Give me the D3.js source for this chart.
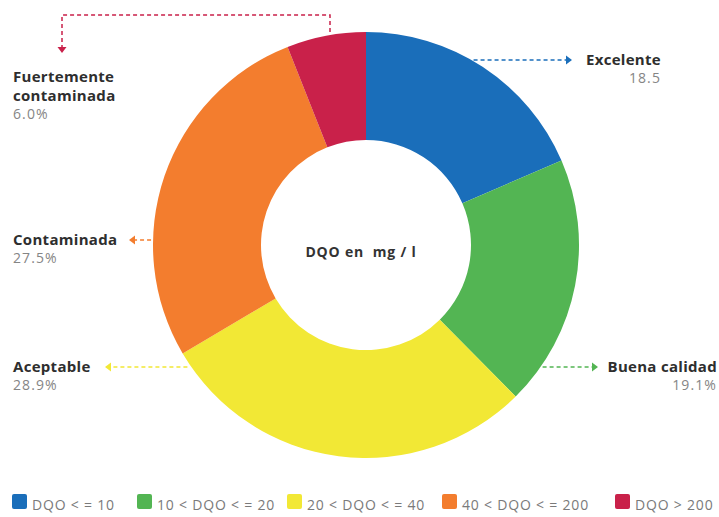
<!DOCTYPE html>
<html>
<head>
<meta charset="utf-8">
<script src="https://cdn.jsdelivr.net/npm/d3@7"></script>
<style>
  html, body { margin: 0; padding: 0; background: #fff; }
  svg { display: block; font-family: "Open Sans", Lato, sans-serif; }
</style>
</head>
<body>
<svg id="chart" width="719" height="517"></svg>
<script>
// Water quality by chemical oxygen demand (DQO), share of sites per class
const categories = ["Excelente", "Buena calidad", "Aceptable", "Contaminada", "Fuertemente contaminada"];
const values = [18.5, 19.1, 28.9, 27.5, 6.0];
const valueLabels = ["18.5", "19.1%", "28.9%", "27.5%", "6.0%"];
const legendLabels = ["DQO < = 10", "10 < DQO < = 20", "20 < DQO < = 40", "40 < DQO < = 200", "DQO > 200"];
const colors = ["#1a6eba", "#53b553", "#f2e835", "#f37d2e", "#c9214a"];
const centerTitle = "DQO en  mg / l";

const svg = d3.select("#chart");
const cx = 366, cy = 245, rOuter = 213, rInner = 105;

const pie = d3.pie().sort(null).value(d => d)(values);
const arc = d3.arc().innerRadius(rInner).outerRadius(rOuter);

const g = svg.append("g").attr("transform", `translate(${cx},${cy})`);
g.selectAll("path.slice")
  .data(pie)
  .join("path")
  .attr("class", "slice")
  .attr("d", arc)
  .attr("fill", (d, i) => colors[i]);

g.append("text")
  .attr("x", -5).attr("y", 12)
  .attr("text-anchor", "middle")
  .attr("font-size", 14).attr("font-weight", 700)
  .attr("letter-spacing", 0.8)
  .attr("fill", "#333")
  .style("white-space", "pre")
  .text(centerTitle);

// x position of the outer rim at a given y, on either side
const rimX = (y, side) => cx + side * Math.sqrt(rOuter * rOuter - (y - cy) * (y - cy));

const ann = svg.append("g");

function arrowHead(x, y, dir, color) {
  // dir: "right" | "left" | "down"
  let p;
  if (dir === "right") p = [[x, y], [x - 6, y - 4.5], [x - 6, y + 4.5]];
  else if (dir === "left") p = [[x, y], [x + 6, y - 4.5], [x + 6, y + 4.5]];
  else p = [[x, y], [x - 4.5, y - 6], [x + 4.5, y - 6]];
  ann.append("path").attr("d", d3.line()(p) + "Z").attr("fill", color);
}

function dashed(points, color) {
  ann.append("path")
    .attr("d", d3.line()(points))
    .attr("fill", "none")
    .attr("stroke", color)
    .attr("stroke-width", 1.5)
    .attr("stroke-dasharray", "4,3");
}

function label(x, y, anchor, lines, value) {
  const t = ann.append("g");
  lines.forEach((s, k) => {
    t.append("text").attr("x", x).attr("y", y + k * 18.5)
      .attr("text-anchor", anchor)
      .attr("font-size", 15).attr("font-weight", 700)
      .attr("letter-spacing", 0.3)
      .attr("fill", "#2e2e2e")
      .text(s);
  });
  t.append("text").attr("x", x).attr("y", y + lines.length * 18.5 - 0.5)
    .attr("text-anchor", anchor)
    .attr("font-size", 14).attr("letter-spacing", 1.1)
    .attr("fill", "#858585")
    .text(value);
}

// Excelente
{
  const y = 60, x0 = rimX(y, 1) + 2, x1 = 572;
  dashed([[x0, y], [x1 - 5, y]], colors[0]);
  arrowHead(x1, y, "right", colors[0]);
  label(661, y + 5, "end", [categories[0]], valueLabels[0]);
}
// Buena calidad
{
  const y = 367, x0 = rimX(y, 1) + 2, x1 = 598;
  dashed([[x0, y], [x1 - 5, y]], colors[1]);
  arrowHead(x1, y, "right", colors[1]);
  label(717, y + 5, "end", [categories[1]], valueLabels[1]);
}
// Aceptable
{
  const y = 367, x0 = rimX(y, -1) - 4, x1 = 105;
  dashed([[x0, y], [x1 + 5, y]], colors[2]);
  arrowHead(x1, y, "left", colors[2]);
  label(13, y + 5, "start", [categories[2]], valueLabels[2]);
}
// Contaminada
{
  const y = 240, x0 = rimX(y, -1) - 2, x1 = 129;
  dashed([[x0, y], [x1 + 5, y]], colors[3]);
  arrowHead(x1, y, "left", colors[3]);
  label(13, y + 5, "start", [categories[3]], valueLabels[3]);
}
// Fuertemente contaminada
{
  const xs = 330, y0 = cy - Math.sqrt(rOuter * rOuter - (xs - cx) * (xs - cx)) - 3;
  const yTop = 15, xl = 62, yTip = 53;
  dashed([[xs, y0], [xs, yTop], [xl, yTop], [xl, yTip - 5]], colors[4]);
  arrowHead(xl, yTip, "down", colors[4]);
  label(13, 82, "start", ["Fuertemente", "contaminada"], valueLabels[4]);
}

// Legend
const legendX = [12, 137, 287, 442, 615];
const lg = svg.append("g");
legendLabels.forEach((s, i) => {
  lg.append("rect").attr("x", legendX[i]).attr("y", 494)
    .attr("width", 15).attr("height", 15).attr("rx", 2)
    .attr("fill", colors[i]);
  lg.append("text").attr("x", legendX[i] + 20).attr("y", 510)
    .attr("font-size", 14).attr("letter-spacing", 0.8)
    .attr("fill", "#7a7a7a")
    .style("white-space", "pre")
    .text(s);
});
</script>
</body>
</html>
